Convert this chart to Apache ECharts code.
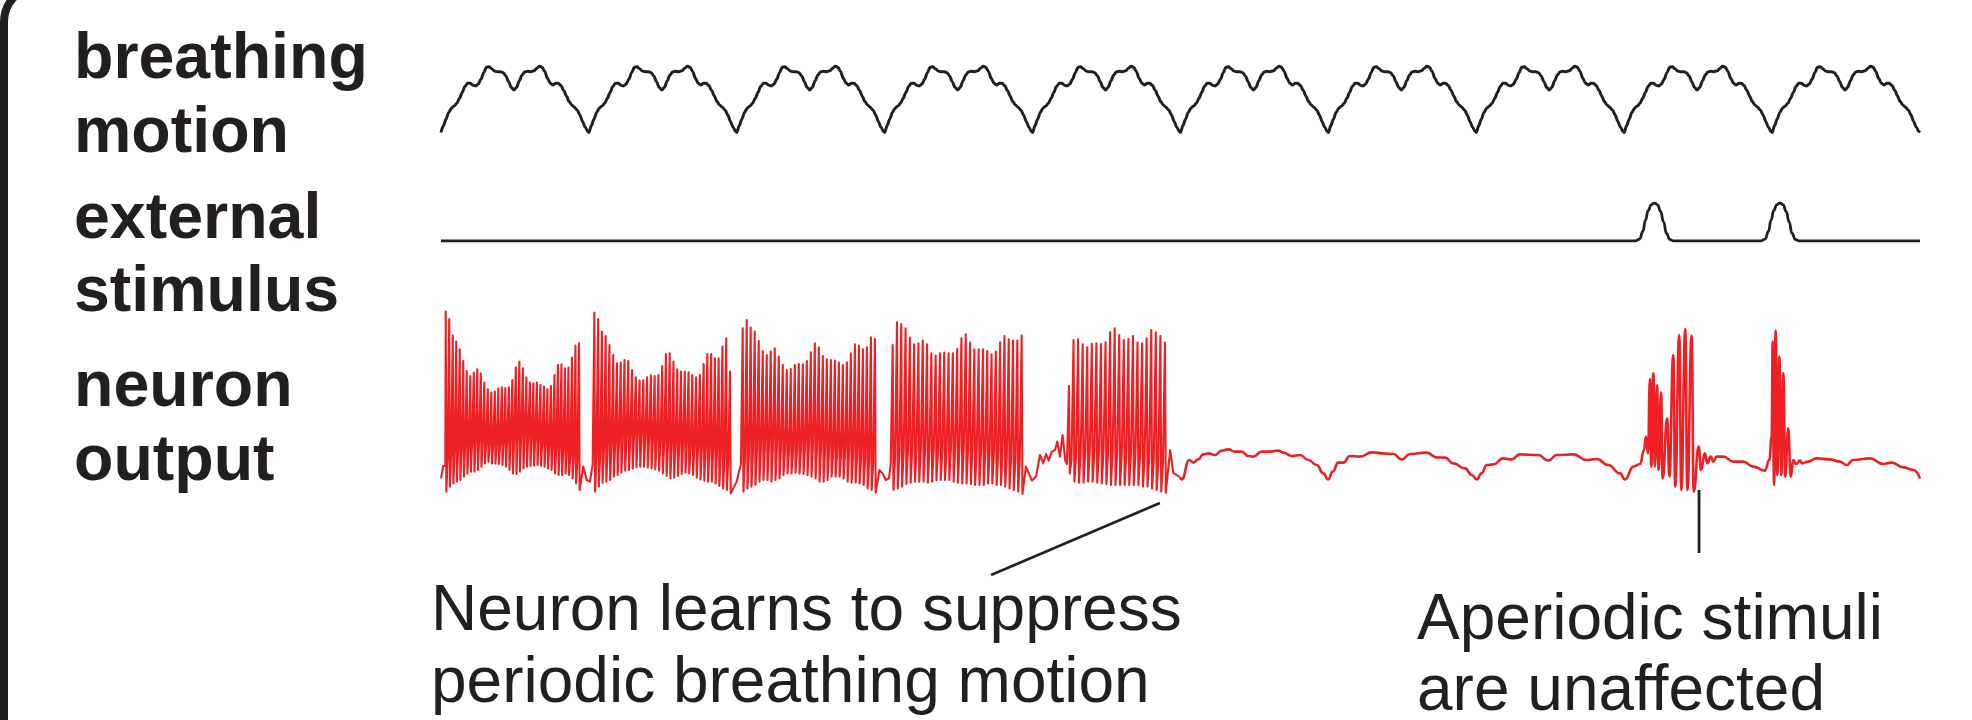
<!DOCTYPE html>
<html><head><meta charset="utf-8">
<script src="https://cdn.jsdelivr.net/npm/echarts@6/dist/echarts.min.js"></script>
<style>html,body{margin:0;padding:0;background:#fff;overflow:hidden}#c{width:1972px;height:720px}</style>
</head><body><div id="c"></div>
<script>
// ---------------- DATA (time in seconds, one breath per second) ----------------
const timeRange = [0, 10];
const breathCount = 10;
// one breathing cycle: [phase within the breath, normalised displacement]
const breathCycle = [[0.000,0.00],[0.016,0.10],[0.034,0.20],[0.052,0.30],[0.070,0.365],[0.089,0.40],[0.107,0.44],[0.125,0.515],[0.143,0.60],[0.161,0.69],[0.180,0.74],[0.198,0.74],[0.216,0.71],[0.234,0.70],[0.252,0.73],[0.270,0.80],[0.289,0.90],[0.307,0.98],[0.325,0.99],[0.343,0.96],[0.361,0.925],[0.380,0.915],[0.402,0.915],[0.420,0.90],[0.439,0.85],[0.457,0.765],[0.475,0.68],[0.493,0.64],[0.511,0.68],[0.530,0.78],[0.548,0.865],[0.566,0.91],[0.584,0.92],[0.607,0.915],[0.630,0.93],[0.648,0.965],[0.666,1.0],[0.684,0.98],[0.702,0.915],[0.720,0.815],[0.739,0.74],[0.757,0.715],[0.775,0.74],[0.793,0.74],[0.811,0.705],[0.830,0.63],[0.848,0.55],[0.866,0.465],[0.884,0.415],[0.902,0.38],[0.920,0.34],[0.939,0.265],[0.957,0.165],[0.975,0.08],[0.993,0.01]];

// external stimulus: pulse times and pulse shape [offset s, amplitude]
const stimulusTimes = [8.204, 9.053];
const stimulusShape = [[-0.13,0],[-0.1,0.05],[-0.078,0.25],[-0.06,0.55],[-0.042,0.8],[-0.022,0.95],[0,1],[0.022,0.95],[0.042,0.78],[0.062,0.5],[0.082,0.2],[0.104,0.04],[0.13,0]];

// neuron output: bursts [first spike time, last spike time]
const burstWindows = [[0.032,0.933],[1.037,1.954],[2.040,2.934],[3.054,3.926],[4.246,4.895]];
const burst1Peaks   = [94.2,90.5,82.2,79.2,75.3,69.5,64.5,62,63.7,65.3,63.3,58.7,55.3,53.7,54.2,55.7,56.3,56,56.3,60,66.3,69.2,65.8,61.3,58.7,58.3,58.7,57.5,56.7,55.3,57,62.5,67.5,67.8,65.8,66.2,71.2,77.2,78.3];
const burst1Troughs = [4.2,6.7,8.3,9.2,10,11.7,13.3,14.2,14.2,15,16.7,18.3,19.2,18.3,18.3,18,17.5,16.7,15,13.3,13,14.2,15.8,16.7,17,17.2,17.5,17.2,16.7,15.8,15,13.3,12.5,12.5,13.3,12.5,10.8,8.3,5];
const burst1Mids    = [17,21,23,25,27,27,28,29,30,31,31,30,29,28,28,28,29,30,31,32,32,33,34,34,34,33,32,31,30,29,28,27,27,27,26,25,23,22,20];
const burst2Peaks   = [93.7,90.5,84.2,82,77.5,72.5,68.3,68.7,70,69.5,65,61.3,59.7,60,61.3,62.3,62,62.5,67,73,73.3,69.2,65.3,64.2,64.2,63.8,62.5,61.3,62.5,68,73,73,70.8,70.8,76.7,80.8,64.2];
const burst2Troughs = [4.2,6.7,8.7,9.2,10,11.7,12.5,13.7,14.7,15,15.8,16.3,16.7,16.7,16.3,15.8,15.3,14.7,13.3,12,10.8,11.3,12,13,13.7,13.3,12.5,11.3,10.3,9.7,9.2,9.2,8.3,7,5.8,5,3.3];
const burst2Mids    = [18,21,23,25,27,28,29,30,31,32,32,33,34,34,33,32,31,30,29,29,28,28,28,28,28,28,27,27,27,26,26,25,25,24,23,22,20];
const burst3Peaks   = [85.8,90,86.2,84.2,79.5,74.5,72.5,74.2,75.8,71.7,67.5,65,65.5,67.5,68,67.8,69.5,73.8,78.3,76.3,72,70.3,70,69.7,68.7,67.5,68.8,73.3,77.8,77.2,75.3,76.3,81.3,80.5];
const burst3Troughs = [4.2,5.8,6.7,7.5,9.2,10,10,9.2,10,10.8,12.5,13.3,13.3,13.7,13.3,13,12.5,11.7,10.8,9.2,9.2,10,11.7,11.7,11.7,10.8,9.2,8.7,8.7,8.3,7.5,5.8,5,3.7];
const burst3Mids    = [18,21,23,24,25,26,27,27,28,27,26,25,24,24,25,26,27,28,28,27,26,25,24,23,23,23,24,24,23,22,21,20,19,18];
const burst4Peaks   = [77.5,88.8,88,85.8,81.2,77.8,78.3,79.7,77.8,73.3,72.2,73.3,73.7,73.3,73.3,75.5,80.8,82.8,78.7,75.3,75.3,75.3,74.5,72.8,74.2,78.8,82,80.3,79.7,79.7,82.2];
const burst4Troughs = [5,5.8,6.7,8,8.7,9.2,9.2,9.2,8.7,9.2,10,10,10,10,9.2,8.7,8.3,8.3,8,7.5,7.5,7.5,8.3,8.3,7.5,7.5,6.7,5.8,5,4.2,3];
const burst4Mids    = [18,21,23,24,25,25,26,26,26,25,25,25,25,25,26,27,27,27,26,25,25,24,24,24,24,24,23,22,21,20,19];
const burst5Peaks   = [57,80,80.3,77.8,76.3,78,78.3,78,78.8,83.8,85.8,82.5,80,80.5,82,78.7,78.3,80.8,85,83.8,82,78.7];
const burst5Troughs = [13.3,9.2,8.7,8.7,9.2,9.2,8.7,8.3,8,7.5,7.5,7.5,7.5,7.5,7.5,7.5,6.7,6.7,5.8,5,4.2,3.7];
const burst5Mids    = [18,20,22,23,23,24,24,24,24,24,24,24,23,23,23,23,22,22,21,20,19,18];
// slow (non-spiking) stretches between bursts: [time s, value]
const preBurst  = [[0,10.8],[0.015,17]];
const gap12     = [[0.962,16.7],[0.985,10],[1.007,9.2]];
const gap23     = [[1.999,9.2]];
const gap34     = [[2.964,15],[2.986,13.3],[3.007,10],[3.029,10.8]];
const gap45     = [[3.955,16.7],[3.974,13.3],[3.996,9.7],[4.023,11.7],[4.050,22.5],[4.072,18.3],[4.091,23],[4.109,19.7],[4.129,24.2],[4.152,25],[4.167,29.2],[4.185,21.7],[4.203,32.5],[4.221,19.7]];
const postBurst = [[4.930,25],[4.951,13.7],[4.997,11.3]];
const quietTrace = [[5.008,10.3],[5.059,20],[5.087,18.7],[5.120,20.3],[5.154,22.8],[5.188,23.3],[5.233,22.5],[5.279,24.7],[5.323,25.3],[5.368,24.2],[5.414,24.2],[5.458,22],[5.492,21.7],[5.549,24.2],[5.605,24.2],[5.661,24.7],[5.695,23.7],[5.752,22],[5.808,22.5],[5.864,20],[5.921,17.5],[5.966,13.3],[5.999,10.3],[6.029,14.2],[6.067,18.7],[6.101,18.7],[6.146,22],[6.214,21.7],[6.293,23.8],[6.371,23.3],[6.439,23],[6.496,20.3],[6.552,23],[6.665,23.7],[6.732,21.3],[6.788,21.2],[6.845,18.3],[6.924,15.8],[6.969,12.5],[7.003,10.3],[7.036,13.3],[7.070,17.5],[7.115,17.8],[7.183,20.8],[7.239,20.3],[7.295,22.8],[7.419,22.5],[7.487,19.7],[7.544,22.5],[7.656,22.8],[7.747,20],[7.814,20.5],[7.893,17.5],[7.972,13.3],[8.005,10.3],[8.062,16.7],[8.107,18],[8.134,25],[8.147,31.7],[8.161,23.3],[8.174,60.5],[8.183,16.7],[8.197,63.3],[8.208,16.7],[8.222,57.5],[8.233,15],[8.249,53.7],[8.260,10.8],[8.291,40.8],[8.305,11.7],[8.332,72.5],[8.345,6.7],[8.372,82.5],[8.386,5],[8.413,85.5],[8.427,5],[8.456,82.2],[8.470,4.2],[8.504,26.7],[8.519,15],[8.546,23.3],[8.562,18.3],[8.585,21.7],[8.603,19.2],[8.625,21.7],[8.670,21.7],[8.738,19.2],[8.805,19.2],[8.873,16.7],[8.952,14.7],[8.981,20],[8.997,31.7],[9.004,79.2],[9.013,7.5],[9.024,84.7],[9.035,12.5],[9.049,71.7],[9.062,12.5],[9.076,63.3],[9.089,11.7],[9.109,35.8],[9.126,11.7],[9.143,20],[9.162,18],[9.189,19.7],[9.203,18.3],[9.243,19.2],[9.300,20.8],[9.391,20.3],[9.459,19.2],[9.504,17.5],[9.549,20],[9.662,20.8],[9.752,18],[9.809,18.7],[9.887,16.3],[9.955,15],[10.0,10.8]];
// annotation leader lines, in neuron-output data units
const leaderSuppress  = [[3.719,-37.5],[4.861,-1.5]];
const leaderAperiodic = [[8.506,5],[8.506,-26.5]];

const rowLabels = ['breathing','motion','external','stimulus','neuron','output'];
const noteLeft  = ['Neuron learns to suppress','periodic breathing motion'];
const noteRight = ['Aperiodic stimuli','are unaffected'];

// ---------------- BUILD ----------------
const INK = '#231f20', RED = '#ed2024';
const breathData = [];
for (let k = 0; k < breathCount; k++) breathCycle.forEach(p => breathData.push([k + p[0], p[1]]));
breathData.push([breathCount, 0]);

const stimData = [[timeRange[0], 0]];
stimulusTimes.forEach(c => stimulusShape.forEach(p => stimData.push([c + p[0], p[1]])));
stimData.push([timeRange[1], 0]);

function burstPoints(win, peaks, troughs, mids) {
  const n = peaks.length, dt = (win[1] - win[0]) / (n - 1), out = [];
  for (let i = 0; i < n; i++) {
    const t = win[0] + i * dt;
    out.push([t - 0.45 * dt, mids[i]], [t - 0.12 * dt, mids[i]], [t, peaks[i]], [t + 0.18 * dt, troughs[i]]);
  }
  return out;
}
const burstSets = [[burst1Peaks,burst1Troughs,burst1Mids],[burst2Peaks,burst2Troughs,burst2Mids],[burst3Peaks,burst3Troughs,burst3Mids],[burst4Peaks,burst4Troughs,burst4Mids],[burst5Peaks,burst5Troughs,burst5Mids]];
const gaps = [gap12, gap23, gap34, gap45, postBurst];
let neuronBursting = preBurst.slice();
burstSets.forEach((b, i) => {
  neuronBursting = neuronBursting.concat(burstPoints(burstWindows[i], b[0], b[1], b[2]), gaps[i]);
});
const neuronQuiet = [postBurst[postBurst.length - 1]].concat(quietTrace);

const GL = 441, GW = 1479;
const grids = [
  {left: GL, width: GW, top: 66, height: 66.5},
  {left: GL, width: GW, top: 203, height: 38},
  {left: GL, width: GW, top: 300, height: 200}
];
const xAxes = grids.map((g, i) => ({type: 'value', gridIndex: i, min: timeRange[0], max: timeRange[1], show: false}));
const yAxes = [
  {type: 'value', gridIndex: 0, min: 0, max: 1, show: false},
  {type: 'value', gridIndex: 1, min: 0, max: 1, show: false},
  {type: 'value', gridIndex: 2, min: 0, max: 100, show: false}
];
const lineBase = {type: 'line', symbol: 'none', silent: true, animation: false};
const series = [
  Object.assign({}, lineBase, {name: 'breathing motion', xAxisIndex: 0, yAxisIndex: 0, data: breathData, smooth: 0.3, smoothMonotone: 'x', lineStyle: {color: INK, width: 3, join: 'round'}}),
  Object.assign({}, lineBase, {name: 'external stimulus', xAxisIndex: 1, yAxisIndex: 1, data: stimData, smooth: 0.5, smoothMonotone: 'x', lineStyle: {color: INK, width: 2.8, join: 'round'}}),
  Object.assign({}, lineBase, {name: 'neuron output', xAxisIndex: 2, yAxisIndex: 2, data: neuronBursting, lineStyle: {color: RED, width: 2.1, join: 'round'}}),
  Object.assign({}, lineBase, {name: 'neuron output (quiet)', xAxisIndex: 2, yAxisIndex: 2, data: neuronQuiet, smooth: 0.5, smoothMonotone: 'x', lineStyle: {color: RED, width: 2.6, join: 'round'}}),
  Object.assign({}, lineBase, {name: 'leader 1', xAxisIndex: 2, yAxisIndex: 2, data: leaderSuppress, clip: false, lineStyle: {color: INK, width: 2.5}}),
  Object.assign({}, lineBase, {name: 'leader 2', xAxisIndex: 2, yAxisIndex: 2, data: leaderAperiodic, clip: false, lineStyle: {color: INK, width: 2.8}})
];

// text layout (baselines in px); zrender 'middle' sits ~0.35em above the baseline
const labelFS = 64.5, noteFS = 64;
const labelBaselines = [83, 157, 243, 316, 411, 485];
const graphics = [
  {type: 'rect', shape: {x: 4, y: -14, width: 3000, height: 3000, r: 36}, style: {fill: 'none', stroke: INK, lineWidth: 8}, silent: true}
];
rowLabels.forEach((t, i) => graphics.push({type: 'text', silent: true, style: {text: t, x: 74, y: labelBaselines[i] - 0.35 * labelFS, fill: INK, fontSize: labelFS, fontWeight: 'bold', fontFamily: '"Liberation Sans", Arial, sans-serif', verticalAlign: 'middle', align: 'left'}}));
const leftBase = [635, 707], rightBase = [644, 715];
noteLeft.forEach((t, i) => graphics.push({type: 'text', silent: true, style: {text: t, x: 431, y: leftBase[i] - 0.35 * noteFS, fill: INK, fontSize: noteFS, fontFamily: '"Liberation Sans", Arial, sans-serif', verticalAlign: 'middle', align: 'left'}}));
noteRight.forEach((t, i) => graphics.push({type: 'text', silent: true, style: {text: t, x: 1417, y: rightBase[i] - 0.35 * noteFS, fill: INK, fontSize: noteFS, fontFamily: '"Liberation Sans", Arial, sans-serif', verticalAlign: 'middle', align: 'left'}}));

const chart = echarts.init(document.getElementById('c'), null, {renderer: 'canvas'});
chart.setOption({
  animation: false,
  backgroundColor: '#fff',
  grid: grids, xAxis: xAxes, yAxis: yAxes, series: series,
  graphic: graphics
});
</script></body></html>
